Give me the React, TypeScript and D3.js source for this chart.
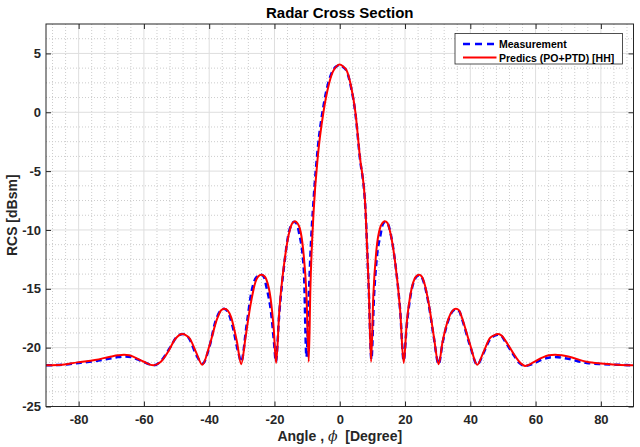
import * as React from 'react';
import * as d3 from 'd3';

import type { RefObject } from 'react';

interface Margin {
  top: number;
  right: number;
  bottom: number;
  left: number;
}

interface Pt {
  angle: number;
  value: number;
}

// predicted RCS (PO+PTD) [HH]
const predAngles = [
  -90, -85, -80.4, -75, -70, -68, -66.1, -64.5, -63, -60, -57.1, -55, -52.5, -50.5, -49.3, -48.2,
  -47.1, -46, -44, -42.1, -40, -37.5, -36.4, -35.3, -34.3, -33.3, -31.5, -30.2, -28.8, -27.3, -25.8,
  -25, -24, -23, -22.5, -21.2, -20.2, -19.5, -18.5, -17, -15.3, -14.6, -13.7, -12.9, -12.3, -11.2,
  -10.2, -9.5, -9, -8, -6.7, -5, -3.4, -2.1, -1, 0, 1.2, 2.2, 3.4, 4.8, 6.1, 7.9, 8.9, 9.6, 10.3,
  11.2, 12.5, 13.1, 13.8, 14.6, 15.3, 17, 18.5, 19.6, 20.5, 22, 23, 23.6, 24.3, 25.1, 25.8, 27.3,
  28.8, 30.3, 31.5, 33.5, 34.6, 35.6, 36.6, 37.5, 40, 42.1, 44, 46, 47.3, 48.4, 49.5, 50.5, 53, 55,
  56.8, 59, 62, 64, 66, 68, 70, 75.7, 80, 85, 90,
];
const predValues = [
  -21.5, -21.45, -21.25, -21.05, -20.75, -20.65, -20.6, -20.65, -20.8, -21.2, -21.5, -21.25, -20.3,
  -19.3, -18.95, -18.85, -18.95, -19.2, -20.4, -21.45, -19.9, -17.5, -16.85, -16.7, -16.85, -17.4,
  -19.5, -21.4, -19.0, -16.3, -14.4, -13.95, -13.8, -13.95, -14.2, -15.8, -18.5, -21.3, -16.8, -12.8,
  -10.0, -9.45, -9.25, -9.45, -9.8, -11.7, -15.5, -21.2, -15.0, -8.4, -3.7, 0, 2.3, 3.45, 3.9, 4.05,
  3.85, 3.5, 2.3, 0, -3.6, -8.3, -15.0, -21.2, -15.5, -11.8, -9.7, -9.4, -9.25, -9.4, -10.0, -12.8,
  -16.8, -21.3, -18.0, -15.0, -14.1, -13.9, -13.8, -13.95, -14.4, -16.3, -19.0, -21.4, -19.5, -17.4,
  -16.85, -16.7, -16.85, -17.5, -19.8, -21.45, -20.4, -19.2, -18.95, -18.85, -18.95, -19.3, -20.4,
  -21.2, -21.55, -21.3, -20.85, -20.65, -20.6, -20.65, -20.75, -21.2, -21.35, -21.45, -21.5,
];

// measurement
const measAngles = [
  -90, -85, -80, -75, -70, -68, -66, -64, -62, -59, -57, -55, -52, -50, -49, -48, -47, -46, -44,
  -42, -40, -38, -36.5, -35.5, -34.4, -33, -31, -30.2, -28.5, -27, -25.5, -24.8, -24, -23.2, -22.5,
  -21, -20, -19.6, -18.5, -17, -15.5, -14.7, -14, -13.1, -12.5, -11, -10.2, -9.5, -9, -8, -6.7, -5,
  -3.4, -2, -1, 0, 1.2, 2.2, 3.4, 4.8, 6.1, 7.9, 8.9, 9.7, 10.5, 11.3, 12.5, 13.2, 14, 14.8, 15.5,
  17, 18.5, 19.6, 20.5, 22, 23, 23.6, 24.3, 25.1, 25.8, 27.3, 28.8, 30.3, 31.5, 33.5, 34.6, 35.6,
  36.6, 37.5, 40, 42.1, 44, 46, 47.3, 48.4, 49.5, 50.5, 53, 55, 56.8, 59, 62, 64, 66, 68, 70, 75.7,
  80, 85, 90,
];
const measValues = [
  -21.5, -21.45, -21.3, -21.15, -20.9, -20.8, -20.75, -20.8, -21.0, -21.35, -21.5, -21.2, -20.0,
  -19.1, -18.9, -18.85, -18.95, -19.3, -20.6, -21.35, -20.0, -17.7, -16.85, -16.7, -16.9, -18.0,
  -20.5, -21.2, -18.0, -15.2, -14.0, -13.9, -13.8, -14.0, -14.8, -17.1, -20.0, -21.2, -17.0, -12.9,
  -10.1, -9.5, -9.3, -9.5, -10.2, -13.4, -20.8, -15.8, -12.2, -7.4, -3.0, 0.5, 2.6, 3.6, 3.9, 4.0,
  3.8, 3.45, 2.2, -0.1, -3.7, -8.4, -15.2, -21.0, -15.6, -12.5, -10.4, -9.5, -9.3, -9.5, -10.2,
  -12.8, -16.8, -21.1, -18.2, -15.1, -14.2, -13.95, -13.85, -14.0, -14.5, -16.4, -19.1, -21.4, -19.6,
  -17.5, -16.9, -16.75, -16.9, -17.6, -19.9, -21.45, -20.5, -19.3, -19.0, -18.9, -19.0, -19.4, -20.5,
  -21.3, -21.55, -21.4, -21.0, -20.85, -20.8, -20.85, -20.95, -21.3, -21.4, -21.45, -21.5,
];

const xTicks = [-80, -60, -40, -20, 0, 20, 40, 60, 80];
const yTicks = [-25, -20, -15, -10, -5, 0, 5];
const legendLabels = ['Measurement', 'Predics (PO+PTD) [HH]'];

const Chart = () => {
  const ref: RefObject<HTMLDivElement | null> = React.useRef(null);
  const margin: Margin = { top: 24, right: 6.5, bottom: 40.5, left: 46 };
  const W = 640;
  const H = 447;
  const width = W - margin.left - margin.right;
  const height = H - margin.top - margin.bottom;

  React.useEffect(() => {
    document.body.style.margin = '0';
    const root = d3.select(ref.current);
    root.selectAll('*').remove();

    const svg = root
      .append('svg')
      .attr('width', W)
      .attr('height', H)
      .style('display', 'block')
      .style('font-family', '"Liberation Sans", Arial, sans-serif');

    svg.append('rect').attr('width', W).attr('height', H).attr('fill', '#fff');

    const g = svg.append('g').attr('transform', `translate(${margin.left}, ${margin.top})`);

    const x = d3.scaleLinear().domain([-90, 90]).range([0, width]);
    const y = d3.scaleLinear().domain([-25, 7.5]).range([height, 0]);

    // minor grid
    const xMinor = d3.range(-88, 90, 4).filter((v) => v % 20 !== 0);
    const yMinor = d3.range(-25, 7.5, 1.25).filter((v) => v % 5 !== 0);
    g.selectAll('.xminor')
      .data(xMinor)
      .join('line')
      .attr('x1', (d) => x(d))
      .attr('x2', (d) => x(d))
      .attr('y1', 0)
      .attr('y2', height)
      .attr('stroke', '#cccccc')
      .attr('stroke-dasharray', '1,2');
    g.selectAll('.yminor')
      .data(yMinor)
      .join('line')
      .attr('y1', (d) => y(d))
      .attr('y2', (d) => y(d))
      .attr('x1', 0)
      .attr('x2', width)
      .attr('stroke', '#cccccc')
      .attr('stroke-dasharray', '1,2');

    // major grid
    g.selectAll('.xgrid')
      .data(xTicks)
      .join('line')
      .attr('x1', (d) => x(d))
      .attr('x2', (d) => x(d))
      .attr('y1', 0)
      .attr('y2', height)
      .attr('stroke', '#dedede');
    g.selectAll('.ygrid')
      .data(yTicks)
      .join('line')
      .attr('y1', (d) => y(d))
      .attr('y2', (d) => y(d))
      .attr('x1', 0)
      .attr('x2', width)
      .attr('stroke', '#dedede');

    // curves
    const meas: Pt[] = measAngles.map((a, i) => ({ angle: a, value: measValues[i] }));
    const pred: Pt[] = predAngles.map((a, i) => ({ angle: a, value: predValues[i] }));
    const line = d3
      .line<Pt>()
      .x((d) => x(d.angle))
      .y((d) => y(d.value))
      .curve(d3.curveMonotoneX);

    g.append('path')
      .datum(meas)
      .attr('fill', 'none')
      .attr('stroke', '#0000ff')
      .attr('stroke-width', 2.5)
      .attr('stroke-dasharray', '6,4')
      .attr('d', line);
    g.append('path')
      .datum(pred)
      .attr('fill', 'none')
      .attr('stroke', '#ff0000')
      .attr('stroke-width', 2)
      .attr('stroke-linejoin', 'round')
      .attr('d', line);

    // axes, ticks inside
    const axisColor = '#262626';
    const styleAxis = (sel: d3.Selection<SVGGElement, unknown, null, undefined>) => {
      sel.select('.domain').remove();
      sel.selectAll('line').attr('stroke', axisColor);
      sel
        .selectAll('text')
        .attr('fill', axisColor)
        .style('font-size', '13px')
        .style('font-weight', 'bold')
        .style('font-family', '"Liberation Sans", Arial, sans-serif');
    };
    const fmt = (d: d3.NumberValue) => String(d);

    g.append('g')
      .attr('transform', `translate(0, ${height})`)
      .call(
        d3.axisBottom(x).tickValues(xTicks).tickFormat(fmt).tickSizeInner(-5).tickSizeOuter(0).tickPadding(8)
      )
      .call(styleAxis);
    g.append('g')
      .call(d3.axisTop(x).tickValues(xTicks).tickSizeInner(-5).tickSizeOuter(0).tickFormat(() => ''))
      .call(styleAxis);
    g.append('g')
      .call(
        d3.axisLeft(y).tickValues(yTicks).tickFormat(fmt).tickSizeInner(-5).tickSizeOuter(0).tickPadding(5)
      )
      .call(styleAxis);
    g.append('g')
      .attr('transform', `translate(${width}, 0)`)
      .call(d3.axisRight(y).tickValues(yTicks).tickSizeInner(-5).tickSizeOuter(0).tickFormat(() => ''))
      .call(styleAxis);

    g.append('rect')
      .attr('width', width)
      .attr('height', height)
      .attr('fill', 'none')
      .attr('stroke', axisColor)
      .attr('stroke-width', 1);

    // title and labels
    svg
      .append('text')
      .attr('x', margin.left + width / 2)
      .attr('y', 18)
      .attr('text-anchor', 'middle')
      .attr('fill', '#000')
      .style('font-size', '15px')
      .style('font-weight', 'bold')
      .text('Radar Cross Section');

    const xl = svg
      .append('text')
      .attr('x', margin.left + width / 2)
      .attr('y', 441)
      .attr('text-anchor', 'middle')
      .attr('fill', axisColor)
      .style('font-size', '14px')
      .style('font-weight', 'bold');
    xl.append('tspan').text('Angle , ');
    xl.append('tspan')
      .style('font-style', 'italic')
      .style('font-weight', 'normal')
      .style('font-family', '"DejaVu Serif", serif')
      .text('ϕ');
    xl.append('tspan').text('\u00a0 [Degree]');

    svg
      .append('text')
      .attr('transform', `translate(17, ${margin.top + height / 2}) rotate(-90)`)
      .attr('text-anchor', 'middle')
      .attr('fill', axisColor)
      .style('font-size', '14px')
      .style('font-weight', 'bold')
      .text('RCS [dBsm]');

    // legend
    const lg = svg.append('g').attr('transform', 'translate(455, 33.5)');
    lg.append('rect')
      .attr('width', 167.5)
      .attr('height', 30.5)
      .attr('fill', '#fff')
      .attr('stroke', axisColor)
      .attr('stroke-width', 0.8);
    const legendStyles = [
      { color: '#0000ff', dash: '7,5', w: 2.5 },
      { color: '#ff0000', dash: null, w: 2 },
    ];
    legendLabels.forEach((label, i) => {
      const cy = 10.5 + i * 13.5;
      lg.append('line')
        .attr('x1', 8)
        .attr('x2', 41.5)
        .attr('y1', cy)
        .attr('y2', cy)
        .attr('stroke', legendStyles[i].color)
        .attr('stroke-width', legendStyles[i].w)
        .attr('stroke-dasharray', legendStyles[i].dash);
      lg.append('text')
        .attr('x', 44)
        .attr('y', cy + 4)
        .attr('fill', '#000')
        .style('font-size', '10.5px')
        .style('font-weight', 'bold')
        .text(label);
    });
  });

  return <div ref={ref} />;
};

export default function App() {
  return <Chart />;
}
